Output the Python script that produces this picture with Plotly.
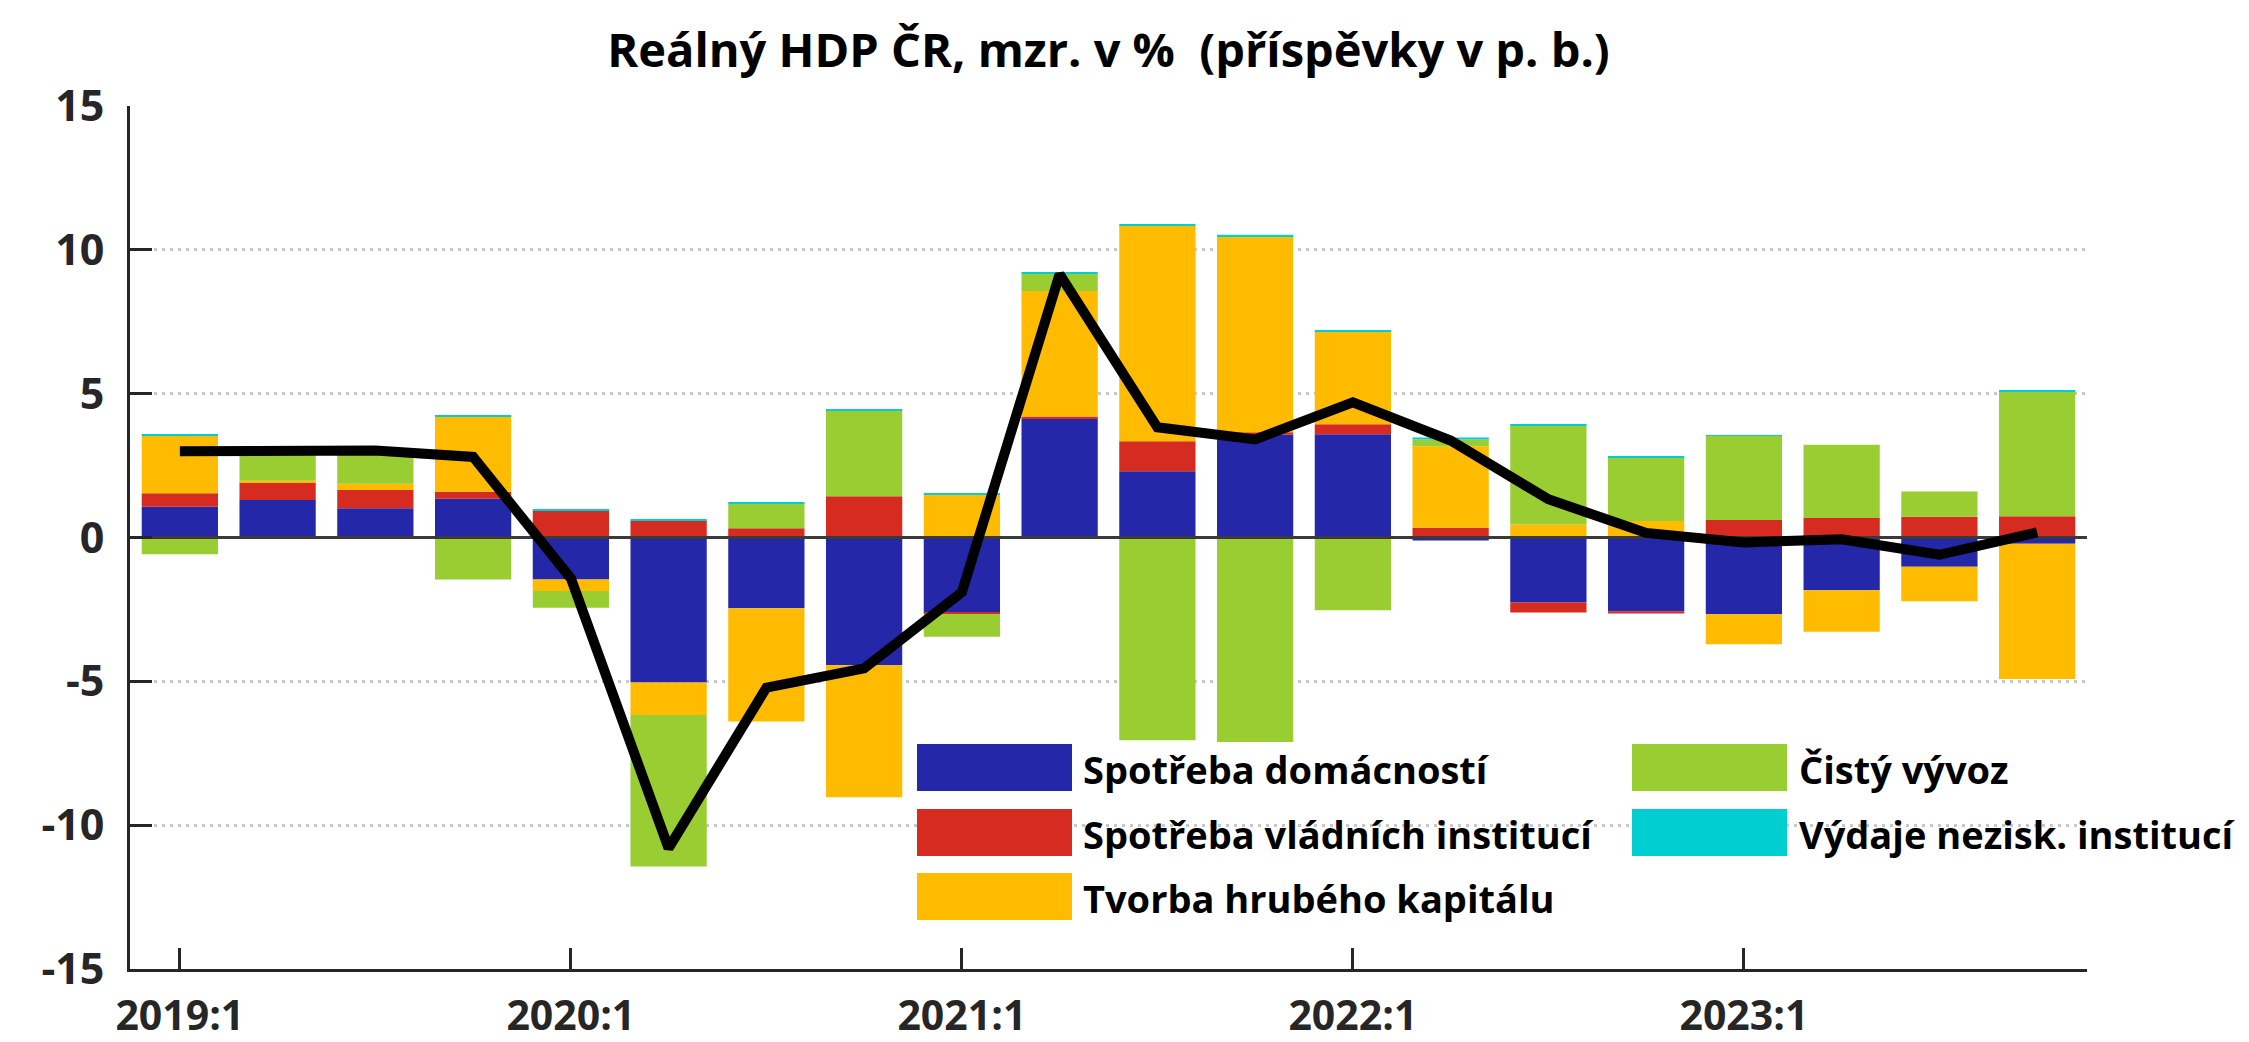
import plotly.graph_objects as go

# ---------------- data ----------------
quarters = list(range(20))  # 2019:1 ... 2023:4
tick_pos = [0, 4, 8, 12, 16]
tick_labels = ["2019:1", "2020:1", "2021:1", "2022:1", "2023:1"]
y_ticks = [-15, -10, -5, 0, 5, 10, 15]
y_tick_labels = ["-15", "-10", "-5", "0", "5", "10", "15"]

spotreba_dom = [1.07, 1.30, 1.02, 1.35, -1.46, -5.04, -2.46, -4.44, -2.62, 4.12,
                2.30, 3.57, 3.59, -0.10, -2.26, -2.56, -2.67, -1.83, -1.02, -0.22]
spotreba_vlad = [0.47, 0.61, 0.63, 0.24, 0.93, 0.58, 0.32, 1.43, -0.04, 0.09,
                 1.05, 0.09, 0.35, 0.34, -0.35, -0.08, 0.61, 0.68, 0.72, 0.74]
tvorba_kap = [2.00, 0.06, 0.22, 2.61, -0.40, -1.13, -3.94, -4.59, 1.50, 4.36,
              7.48, 6.82, 3.21, 2.83, 0.45, 0.57, -1.04, -1.45, -1.20, -4.70]
cisty_vyvoz = [-0.58, 1.08, 1.13, -1.46, -0.58, -5.27, 0.85, 3.00, -0.79, 0.59,
               -7.05, -7.11, -2.53, 0.24, 3.45, 2.21, 2.92, 2.54, 0.88, 4.32]
vydaje_nezisk = [0.03, 0.02, 0.02, 0.05, 0.03, 0.03, 0.03, 0.03, 0.04, 0.04,
                 0.04, 0.04, 0.06, 0.07, 0.04, 0.04, 0.01, 0.00, 0.00, 0.06]
hdp = [3.00, 3.05, 3.02, 2.80, -1.42, -10.80, -5.22, -4.55, -1.90, 9.15,
       3.83, 3.41, 4.70, 3.37, 1.33, 0.16, -0.17, -0.06, -0.60, 0.18]

series_names = ["Spotřeba domácností", "Spotřeba vládních institucí",
                "Tvorba hrubého kapitálu", "Čistý vývoz", "Výdaje nezisk. institucí"]
series_values = [spotreba_dom, spotreba_vlad, tvorba_kap, cisty_vyvoz, vydaje_nezisk]
colors = ["#2327A8", "#D52B20", "#FFBB00", "#9ACD32", "#00CED1"]

title_text = "Reálný HDP ČR, mzr. v %\u00a0 (příspěvky v p. b.)"

# ---------------- layout geometry (pixels) ----------------
OFF = 8                       # page body margin in the browser
W, H = 2249 - OFF, 1042 - OFF
ML, MT = 130 - OFF, 106 - OFF
MR = W - (2087 - OFF)
MB = H - (969 - OFF)
PW = W - ML - MR
PH = H - MT - MB
FONT = "Open Sans"
AXC = "#262626"


def px2paper_x(px):
    return (px - OFF - ML) / PW


def px2paper_y(py):
    return (H - MB - (py - OFF)) / PH


fig = go.Figure()

for name, vals, col in zip(series_names, series_values, colors):
    fig.add_trace(go.Bar(x=quarters, y=vals, name=name, marker_color=col,
                         marker_line_width=0, showlegend=False))

# zero line drawn above the bars
fig.add_trace(go.Scatter(x=[-0.51, 19.51], y=[0, 0], mode="lines",
                         line=dict(color="#3a3a3a", width=3),
                         hoverinfo="skip", showlegend=False))

fig.add_trace(go.Scatter(x=quarters, y=hdp, mode="lines", name="HDP",
                         line=dict(color="black", width=10),
                         showlegend=False))

# ---------------- custom legend ----------------
leg_cols = [(917, 1081), (1632, 1797)]
leg_rows = [744, 809, 873]
sw_w, sw_h = 155, 47
slots = [(0, 0), (0, 1), (0, 2), (1, 0), (1, 1)]
shapes = []
annotations = []
for (ci, ri), name, col in zip(slots, series_names, colors):
    sx, tx = leg_cols[ci]
    sy = leg_rows[ri]
    shapes.append(dict(type="rect", xref="paper", yref="paper",
                       x0=px2paper_x(sx), x1=px2paper_x(sx + sw_w),
                       y0=px2paper_y(sy + sw_h), y1=px2paper_y(sy),
                       fillcolor=col, line=dict(width=0), layer="above"))
    annotations.append(dict(xref="paper", yref="paper",
                            x=px2paper_x(tx), y=px2paper_y(sy + sw_h / 2 + 1),
                            xanchor="left", yanchor="middle", showarrow=False,
                            text=name,
                            font=dict(family=FONT, size=38, color="black",
                                      weight="bold")))

fig.update_layout(
    width=W, height=H,
    margin=dict(l=ML, r=MR, t=MT, b=MB, pad=0, autoexpand=False),
    paper_bgcolor="white", plot_bgcolor="white",
    barmode="relative", bargap=0.22,
    title=dict(text=title_text, x=0.5, xref="paper", xanchor="center",
               y=1 - (51 - OFF) / H, yref="container", yanchor="middle",
               font=dict(family=FONT, size=47, color="black", weight="bold")),
    shapes=shapes, annotations=annotations,
    xaxis=dict(range=[-0.51, 19.51], tickmode="array", tickvals=tick_pos,
               ticktext=tick_labels, ticks="inside", ticklen=21, tickwidth=3,
               tickcolor=AXC, showline=True, linecolor=AXC, linewidth=3,
               showgrid=False, zeroline=False, ticklabelstandoff=9,
               automargin=False,
               tickfont=dict(family=FONT, size=41, color=AXC, weight="bold")),
    yaxis=dict(range=[-15, 15], tickmode="array", tickvals=y_ticks,
               ticktext=y_tick_labels,
               ticks="inside", ticklen=22, tickwidth=3, tickcolor=AXC,
               showline=True, linecolor=AXC, linewidth=3,
               showgrid=True, gridcolor="#c8c8c8", gridwidth=3,
               griddash="3px,5px", zeroline=False, ticklabelstandoff=14,
               automargin=False,
               tickfont=dict(family=FONT, size=43, color=AXC, weight="bold")),
    hovermode=False,
)

fig.write_html("out.html")
